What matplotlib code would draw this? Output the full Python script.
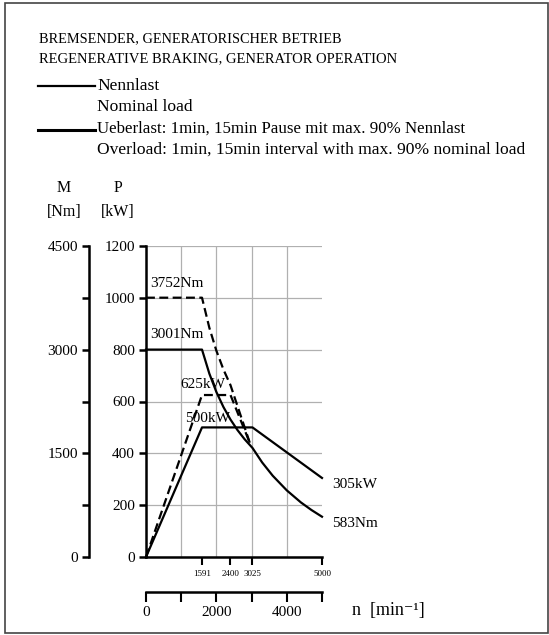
"""Torque / power envelope of a drive in regenerative braking (generator mode)."""

import matplotlib
matplotlib.use("Agg")
import matplotlib.pyplot as plt
from matplotlib.patches import Rectangle
from matplotlib.ticker import FixedLocator, FixedFormatter

plt.rcParams.update({
    "font.family": ["Liberation Serif", "DejaVu Serif"],
    "font.size": 11,
})

# nominal load (Nennlast)
n_nom_power = [0, 1591, 3025, 5000]
p_nom = [0, 500, 500, 305]  # kW
n_nom_torque = [0, 1591, 1800, 2000, 2200, 2400, 2600, 2800, 3025,
                3300, 3600, 4000, 4400, 4700, 5000]
m_nom = [3001, 3001, 2653, 2387, 2170, 1989, 1836, 1705, 1578,
         1368, 1176, 964, 790, 680, 583]  # Nm

# overload (Ueberlast)
n_ovl_power = [0, 1591, 2400, 2950]
p_ovl = [0, 625, 625, 440]
n_ovl_torque = [0, 1591, 1800, 2000, 2200, 2400, 2950]
m_ovl = [3752, 3752, 3316, 2984, 2713, 2487, 1650]

speed_marks = [1591, 2400, 3025, 5000]
speed_ticks = [0, 1000, 2000, 3000, 4000, 5000]
speed_labels = ["0", "", "2000", "", "4000", ""]
power_ticks = [0, 200, 400, 600, 800, 1000, 1200]
torque_ticks = [0, 750, 1500, 2250, 3000, 3750, 4500]
torque_labels = ["0", "", "1500", "", "3000", "", "4500"]

W, H = 549, 635
DPI = 100


def px(x, y):
    """Figure pixel position (from top left) to figure fraction."""
    return x / W, 1 - y / H


fig = plt.figure(figsize=(W / DPI, H / DPI), dpi=DPI)
ax = fig.add_axes([146 / W, 1 - 557 / H, 176 / W, 311 / H])
ax_m = ax.twinx()

lw = 1.6
ax.plot(n_nom_power, p_nom, color="black", lw=lw, clip_on=False)
ax.plot(n_ovl_power, p_ovl, color="black", lw=lw, ls=(0, (4, 2)), clip_on=False)
ax_m.plot(n_nom_torque, m_nom, color="black", lw=lw, clip_on=False)
ax_m.plot(n_ovl_torque, m_ovl, color="black", lw=lw, ls=(0, (4, 2)), clip_on=False)

ax.set_xlim(0, 5000)
ax.set_ylim(0, 1200)
ax_m.set_ylim(0, 4500)

# grid and frame of the power axes
ax.set_xticks(speed_ticks, minor=True)
ax.grid(True, which="minor", axis="x", color="#b0b0b0", lw=0.9)
ax.set_yticks(power_ticks)
ax.grid(True, which="major", axis="y", color="#b0b0b0", lw=0.9)
ax.tick_params(axis="x", which="minor", length=0)
ax.set_xticks(speed_marks)
ax.set_xticklabels([str(v) for v in speed_marks], fontsize=6.5)
ax.tick_params(axis="x", which="major", direction="out", length=6, width=1.5, pad=3)
ax.tick_params(axis="y", direction="out", length=5, width=1.8, pad=3, labelsize=11)
for side in ("top", "right"):
    ax.spines[side].set_visible(False)
for side in ("left", "bottom"):
    ax.spines[side].set_linewidth(1.8)

# torque axis, offset to the left
for side in ("top", "right", "bottom"):
    ax_m.spines[side].set_visible(False)
ax_m.spines["left"].set_visible(True)
ax_m.spines["left"].set_position(("outward", 57 * 72 / DPI))
ax_m.spines["left"].set_linewidth(1.8)
ax_m.yaxis.set_ticks_position("left")
ax_m.yaxis.set_label_position("left")
ax_m.yaxis.set_major_locator(FixedLocator(torque_ticks))
ax_m.yaxis.set_major_formatter(FixedFormatter(torque_labels))
ax_m.tick_params(axis="y", direction="out", length=5, width=1.8, pad=3, labelsize=11)

# speed scale below
sec = ax.secondary_xaxis(-35 / 311)
sec.xaxis.set_major_locator(FixedLocator(speed_ticks))
sec.xaxis.set_major_formatter(FixedFormatter(speed_labels))
sec.tick_params(direction="out", length=7, width=1.5, pad=3, labelsize=11)
sec.spines["bottom"].set_linewidth(1.8)

# curve annotations
ax.text(120, 1057, "3752Nm", ha="left", va="center", fontsize=11)
ax.text(120, 857, "3001Nm", ha="left", va="center", fontsize=11)
ax.text(966, 664, "625kW", ha="left", va="center", fontsize=11)
ax.text(1108, 536, "500kW", ha="left", va="center", fontsize=11)
ax.annotate("305kW", (5000, 305), xytext=(7, -5), textcoords="offset points",
            ha="left", va="center", fontsize=11)
ax_m.annotate("583Nm", (5000, 583), xytext=(7, -5), textcoords="offset points",
              ha="left", va="center", fontsize=11)

# axis captions
fig.text(*px(64, 188), "M", ha="center", va="center", fontsize=11.5)
fig.text(*px(64, 212), "[Nm]", ha="center", va="center", fontsize=11.5)
fig.text(*px(118, 188), "P", ha="center", va="center", fontsize=11.5)
fig.text(*px(118, 212), "[kW]", ha="center", va="center", fontsize=11.5)
fig.text(*px(352, 611), "n  [min\u207b\u00b9]", ha="left", va="center", fontsize=13)

# header and key
fig.text(*px(39, 39), "BREMSENDER, GENERATORISCHER BETRIEB",
         ha="left", va="center", fontsize=10.3)
fig.text(*px(39, 59), "REGENERATIVE BRAKING, GENERATOR OPERATION",
         ha="left", va="center", fontsize=10.5)
fig.add_artist(plt.Line2D([38 / W, 95 / W], [1 - 86 / H, 1 - 86 / H],
                          color="black", lw=1.6))
fig.add_artist(plt.Line2D([38 / W, 95 / W], [1 - 130 / H, 1 - 130 / H],
                          color="black", lw=2.2))
fig.text(*px(97, 86), "Nennlast", ha="left", va="center", fontsize=12.6)
fig.text(*px(97, 107), "Nominal load", ha="left", va="center", fontsize=12.6)
fig.text(*px(97, 129), "Ueberlast: 1min, 15min Pause mit max. 90% Nennlast",
         ha="left", va="center", fontsize=12.2)
fig.text(*px(97, 150), "Overload: 1min, 15min interval with max. 90% nominal load",
         ha="left", va="center", fontsize=12.6)

fig.add_artist(Rectangle((5 / W, 1 - 633 / H), 543 / W, 630 / H,
                         transform=fig.transFigure, fill=False,
                         edgecolor="#444444", lw=1.2))

fig.savefig("out.png", dpi=DPI)
